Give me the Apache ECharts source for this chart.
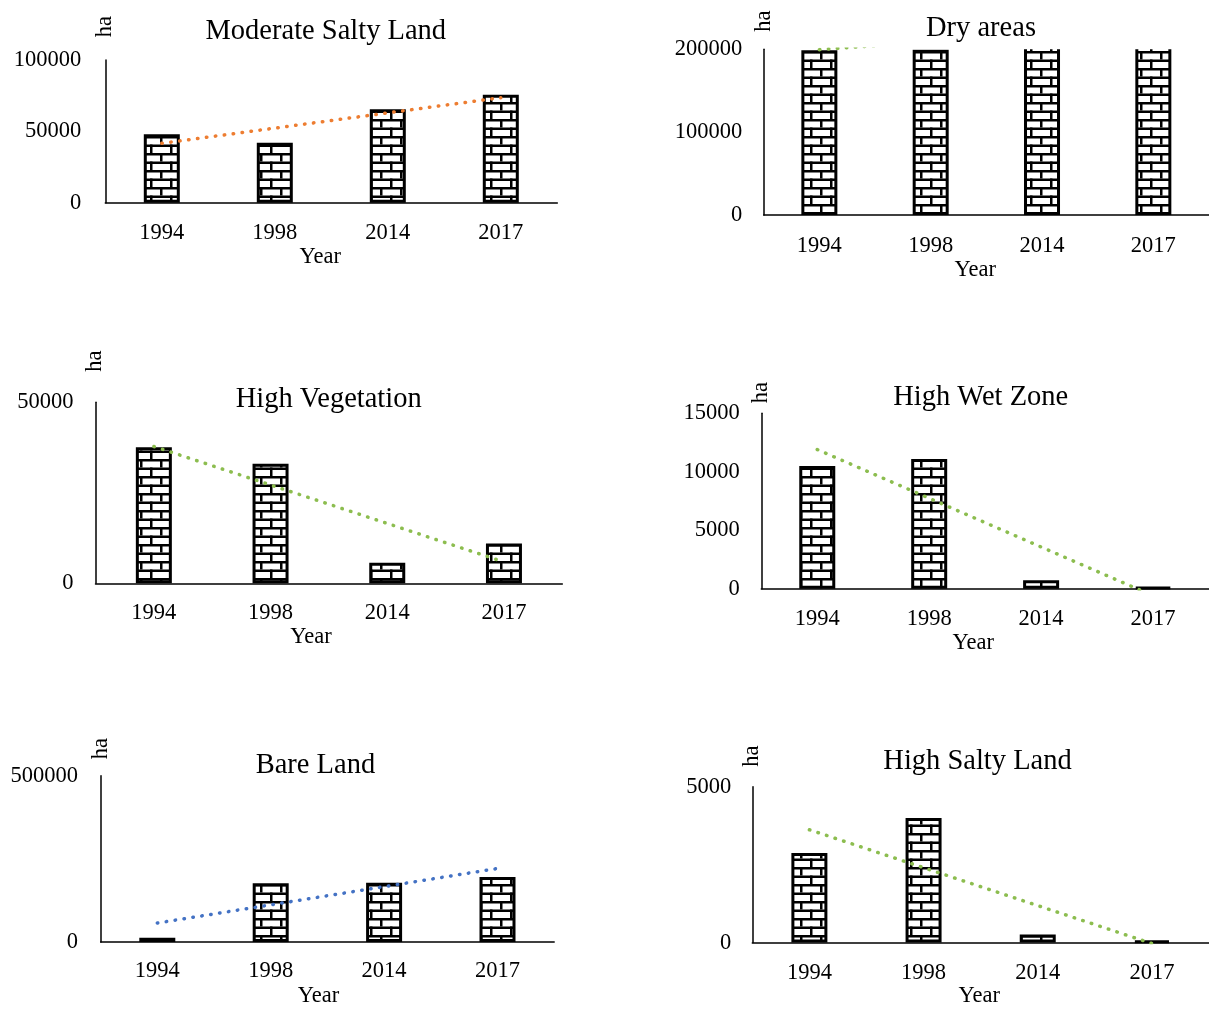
<!DOCTYPE html>
<html>
<head>
<meta charset="utf-8">
<script src="https://cdn.jsdelivr.net/npm/echarts@6/dist/echarts.min.js"></script>
<style>
html,body{margin:0;padding:0;background:#fff;}
#chart{width:1209px;height:1009px;}
</style>
</head>
<body>
<div id="chart"></div>
<script>
// ---- data ----
const years = ['1994', '1998', '2014', '2017'];

const moderateSalty   = [47900, 42000, 65500, 75700];
const dryAreas        = [199000, 199500, 230000, 240000];
const highVegetation  = [37600, 33000, 5700, 11000];
const highWetZone     = [10500, 11090, 720, 120];
const bareLand        = [13000, 176500, 178500, 195300];
const highSalty       = [2870, 4000, 256, 60];

// linear trend line end values at 1994 and 2017
const moderateSaltyTrend  = [41600, 73600];
const dryAreasTrend       = [199600, 228000];
const highVegetationTrend = [37800, 5900];
const highWetZoneTrend    = [11900, -600];
const bareLandTrend       = [57000, 221000];
const highSaltyTrend      = [3620, -30];

// axis ranges
const yMax      = [100000, 200000, 50000, 15000, 500000, 5000];
const yInterval = [50000, 100000, 50000, 5000, 500000, 5000];

const titles = ['Moderate Salty Land', 'Dry areas', 'High Vegetation', 'High Wet Zone', 'Bare Land', 'High Salty Land'];

// ---- styling / layout ----
const FONT = "'Liberation Serif', 'Times New Roman', serif";
const FS = 22.5;
const TFS = 28.5;

const layout = [
  { grid: {left: 105.3, top: 60,    width: 452,   height: 142.7}, tx: 325.8, ty: 29,    haGap: 22.7, yearGap: 42.5, yearShift: -11, xm: 18.5, ym: 24,   color: '#ED7D31' },
  { grid: {left: 763.7, top: 49.3,  width: 454.3, height: 165.7}, tx: 981,   ty: 25.8,  haGap: 17.6, yearGap: 37.7, yearShift: -11, xm: 20,   ym: 21.5, color: '#8CBD4F' },
  { grid: {left: 95.5,  top: 402.3, width: 466.8, height: 181},   tx: 328.7, ty: 396.8, haGap: 30.6, yearGap: 37.4, yearShift: -18, xm: 18,   ym: 22,   color: '#8CBD4F' },
  { grid: {left: 761.3, top: 413.3, width: 454,   height: 175.4}, tx: 980.7, ty: 394.7, haGap: 10,   yearGap: 40,   yearShift: -12, xm: 18.5, ym: 21.5, color: '#8CBD4F' },
  { grid: {left: 100.6, top: 775.7, width: 453.6, height: 170},   tx: 315.4, ty: 762.8, haGap: 16.4, yearGap: 43,   yearShift: -9,  xm: 18,   ym: 22.5, color: '#4472C4' },
  { grid: {left: 752.3, top: 786.7, width: 458,   height: 164},   tx: 977.5, ty: 758.3, haGap: 20,   yearGap: 36,   yearShift: -1.5,xm: 18.5, ym: 21,   color: '#8CBD4F' }
];

const values = [moderateSalty, dryAreas, highVegetation, highWetZone, bareLand, highSalty];
const trends = [moderateSaltyTrend, dryAreasTrend, highVegetationTrend, highWetZoneTrend, bareLandTrend, highSaltyTrend];

function brickPattern() {
  const c = document.createElement('canvas');
  c.width = 40; c.height = 17;
  const g = c.getContext('2d');
  g.fillStyle = '#fff';
  g.fillRect(0, 0, 40, 17);
  g.fillStyle = '#000';
  g.fillRect(0, 0, 40, 2.5);
  g.fillRect(0, 8.5, 40, 2.5);
  g.fillRect(0, 0, 2.5, 8.5);
  g.fillRect(20, 0, 2.5, 8.5);
  g.fillRect(10, 8.5, 2.5, 8.5);
  g.fillRect(30, 8.5, 2.5, 8.5);
  return c;
}
const pattern = brickPattern();

const option = {
  backgroundColor: '#fff',
  animation: false,
  title: [], grid: [], xAxis: [], yAxis: [], series: [],
  graphic: []
};

layout.forEach((L, i) => {
  const overflow = values[i].some(v => v > yMax[i]);
  option.title.push({
    text: titles[i], left: L.tx, top: L.ty + 3, padding: 0,
    textAlign: 'center', textVerticalAlign: 'middle',
    textStyle: {fontFamily: FONT, fontSize: TFS, fontWeight: 'normal', color: '#000'}
  });
  option.grid.push(Object.assign({containLabel: false}, L.grid));
  option.xAxis.push({
    type: 'category', gridIndex: i, data: years, boundaryGap: true,
    axisLine: {show: true, lineStyle: {color: '#000', width: 1.5}},
    axisTick: {show: false},
    axisLabel: {fontFamily: FONT, fontSize: FS, color: '#000', margin: L.xm},
    splitLine: {show: false},
    name: 'Year', nameLocation: 'middle', nameGap: L.yearGap,
    nameTextStyle: {fontFamily: FONT, fontSize: FS, color: '#000',
      padding: L.yearShift < 0 ? [0, -2 * L.yearShift, 0, 0] : [0, 0, 0, 2 * L.yearShift]}
  });
  option.yAxis.push({
    type: 'value', gridIndex: i, min: 0, max: yMax[i], interval: yInterval[i],
    axisLine: {show: true, lineStyle: {color: '#000', width: 1.5}},
    axisTick: {show: false},
    splitLine: {show: false},
    axisLabel: {fontFamily: FONT, fontSize: FS, color: '#000', margin: L.ym,
      formatter: v => String(v)},
    name: 'ha', nameLocation: 'end', nameRotate: 90, nameGap: L.haGap,
    nameTextStyle: {fontFamily: FONT, fontSize: FS, color: '#000'}
  });
  option.series.push({
    type: 'bar', xAxisIndex: i, yAxisIndex: i, data: values[i],
    barWidth: 36, clip: !overflow, silent: true,
    itemStyle: {color: {image: pattern, repeat: 'repeat'}, borderColor: '#000', borderWidth: 3}
  });
  option.series.push({
    type: 'line', xAxisIndex: i, yAxisIndex: i,
    data: [[0, trends[i][0]], [years.length - 1, trends[i][1]]],
    symbol: 'none', clip: true, silent: true, z: 5,
    lineStyle: {color: L.color, width: 3.5, type: [0.5, 8.5], cap: 'round'}
  });
  if (overflow) {
    // bars running past the axis maximum are cut open at the plot top (as in the source)
    option.graphic.push({
      type: 'rect', silent: true, z: 3,
      shape: {x: L.grid.left + 20, y: 0, width: 1209 - L.grid.left - 20, height: L.grid.top},
      style: {fill: '#fff'}
    });
  }
});

const chart = echarts.init(document.getElementById('chart'), null, {renderer: 'canvas'});
chart.setOption(option);
</script>
</body>
</html>
